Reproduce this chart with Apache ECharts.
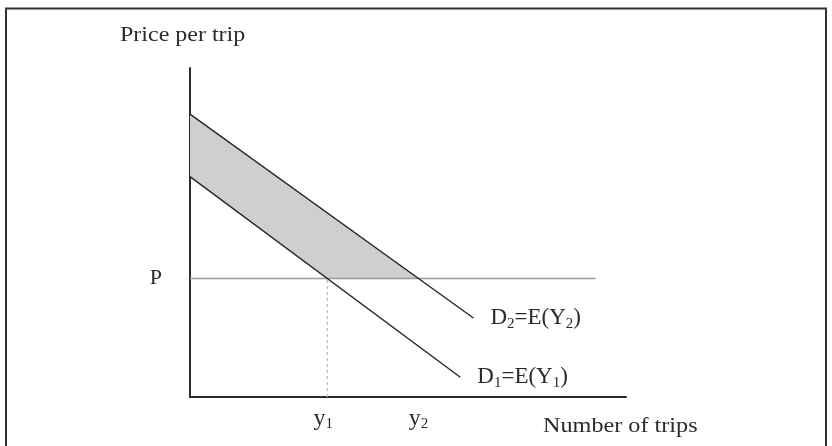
<!DOCTYPE html>
<html>
<head>
<meta charset="utf-8">
<script src="https://cdn.jsdelivr.net/npm/echarts@6/dist/echarts.min.js"></script>
<style>
  html, body { margin: 0; padding: 0; background: #fff; }
  #chart { width: 832px; height: 446px; }
</style>
</head>
<body>
<div id="chart"></div>
<script>
// Demand for trips under two expectations, with a fixed price per trip.
const axisMaxX = 100;
const axisMaxY = 100;
const priceP = 36;                    // price per trip, P
const priceLineEndX = 93;             // horizontal price line runs out to here
const demand1 = [[0, 67], [62, 6]];   // D1 = E(Y1)
const demand2 = [[0, 86], [65, 24]];  // D2 = E(Y2)
const qty1 = 31.5;                    // y1: D1 meets P
const qty2 = 52.4;                    // y2: D2 meets P
const qtyLabels = ['{q|y}{s|1}{gap|}', '{q|y}{s|2}'];
const priceLabel = 'P';
const demandLabels = ['{m|D}{s|1}{m|=E(Y}{s|1}{m|)}', '{m|D}{s|2}{m|=E(Y}{s|2}{m|)}'];
const yTitle = 'Price per trip';
const xTitle = 'Number of trips';

// region between the two demand curves above the price line
const surplusBand = [demand2[0], [qty2, priceP], [qty1, priceP], demand1[0]];

const FONT = '"Liberation Serif", "DejaVu Serif", serif';
const INK = '#2b2b2b';

const rich = {
  m: { fontFamily: FONT, fontSize: 23, color: INK },
  q: { fontFamily: FONT, fontSize: 24, color: INK },
  s: { fontFamily: FONT, fontSize: 15, color: INK, padding: [12, 0, 0, 0] },
  gap: { width: 8 }
};

const chart = echarts.init(document.getElementById('chart'), null, { renderer: 'canvas' });

chart.setOption({
  animation: false,
  backgroundColor: '#fff',
  grid: { left: 190, top: 68, right: 206, bottom: 49, containLabel: false, outerBoundsMode: 'none' },
  xAxis: {
    type: 'value', min: 0, max: axisMaxX,
    axisLine: { show: true, onZero: false, lineStyle: { color: INK, width: 2 } },
    axisTick: { show: false },
    splitLine: { show: false },
    axisLabel: {
      show: true,
      customValues: [qty1, qty2],
      margin: 8,
      formatter: function (v) { return v === qty1 ? qtyLabels[0] : qtyLabels[1]; },
      rich: rich
    }
  },
  yAxis: {
    type: 'value', min: 0, max: axisMaxY,
    axisLine: { show: true, onZero: false, lineStyle: { color: INK, width: 2 } },
    axisTick: { show: false },
    splitLine: { show: false },
    axisLabel: {
      show: true,
      customValues: [priceP],
      margin: 28,
      formatter: function () { return priceLabel; },
      fontFamily: FONT, fontSize: 22, color: INK
    }
  },
  graphic: [
    // frame around the figure (top, left, right edges)
    { type: 'polyline', silent: true, shape: { points: [[6, 446], [6, 8.5], [826, 8.5], [826, 446]] },
      style: { stroke: '#333', lineWidth: 2, fill: null } },
    { type: 'text', x: 120, y: 35, scaleX: 1.09, silent: true,
      style: { text: yTitle, x: 0, y: 0, font: '22px ' + FONT, fill: INK, align: 'left', verticalAlign: 'middle' } },
    { type: 'text', x: 543, y: 426, scaleX: 1.1, silent: true,
      style: { text: xTitle, x: 0, y: 0, font: '22px ' + FONT, fill: INK, align: 'left', verticalAlign: 'middle' } }
  ],
  series: [
    {
      type: 'custom',
      z: 1,
      silent: true,
      data: [0],
      renderItem: function (params, api) {
        return {
          type: 'polygon',
          shape: { points: surplusBand.map(function (p) { return api.coord(p); }) },
          style: { fill: '#cfcfcf', stroke: null }
        };
      }
    },
    {
      type: 'line', z: 2, silent: true, symbol: 'none',
      data: [[0, priceP], [priceLineEndX, priceP]],
      lineStyle: { color: '#9a9a9a', width: 1.5 }
    },
    {
      type: 'line', z: 2, silent: true, symbol: 'none',
      data: [[qty1, 0], [qty1, priceP]],
      lineStyle: { color: '#bdbdbd', width: 1.2, type: [3, 3] }
    },
    {
      type: 'line', z: 3, silent: true, symbol: 'none',
      data: demand1,
      lineStyle: { color: '#262626', width: 1.4 },
      endLabel: { show: true, distance: 17, formatter: function () { return demandLabels[0]; }, rich: rich }
    },
    {
      type: 'line', z: 3, silent: true, symbol: 'none',
      data: demand2,
      lineStyle: { color: '#262626', width: 1.4 },
      endLabel: { show: true, distance: 17, formatter: function () { return demandLabels[1]; }, rich: rich }
    }
  ]
});
</script>
</body>
</html>
